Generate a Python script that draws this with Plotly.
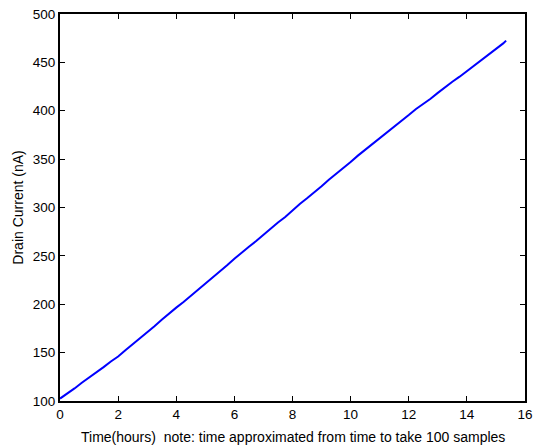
import plotly.graph_objects as go

# Drain current logged over time (hours), read at quarter-hour steps
time_hours = [
    0, 0.25, 0.5, 0.75, 1, 1.25, 1.5, 1.75, 2, 2.25, 2.5, 2.75, 3, 3.25, 3.5, 3.75,
    4, 4.25, 4.5, 4.75, 5, 5.25, 5.5, 5.75, 6, 6.25, 6.5, 6.75, 7, 7.25, 7.5, 7.75,
    8, 8.25, 8.5, 8.75, 9, 9.25, 9.5, 9.75, 10, 10.25, 10.5, 10.75, 11, 11.25, 11.5, 11.75,
    12, 12.25, 12.5, 12.75, 13, 13.25, 13.5, 13.75, 14, 14.25, 14.5, 14.75, 15, 15.25, 15.35,
]
drain_current_nA = [
    102.5, 107.5, 113, 118.8, 124, 129.2, 135, 140.8, 146, 152.5, 158.5, 164.4, 171, 177.2, 184, 190.6,
    196.5, 202.3, 208.5, 215.2, 221, 227.8, 234, 240.2, 247, 253.6, 259.5, 265.4, 272, 278.6, 284.5, 290.2,
    297, 303.6, 309.5, 315.4, 322, 328.6, 334.5, 340.4, 347, 353.6, 359.5, 365.2, 371.5, 377.8, 383.5, 389.2,
    395.5, 401.8, 407, 412.4, 418.5, 424.6, 430, 435.2, 441, 446.8, 452, 457.6, 464, 469.6, 472.5,
]

x_ticks = [0, 2, 4, 6, 8, 10, 12, 14, 16]
y_ticks = [100, 150, 200, 250, 300, 350, 400, 450, 500]

x_title = "Time(hours)  note: time approximated from time to take 100 samples"
y_title = "Drain Current (nA)"

font_family = "Liberation Sans, Arial, sans-serif"

fig = go.Figure(
    go.Scatter(
        x=time_hours,
        y=drain_current_nA,
        mode="lines",
        line=dict(color="#0000FF", width=2),
        showlegend=False,
    )
)

axis_common = dict(
    showline=True,
    linecolor="black",
    linewidth=2,
    mirror="ticks",
    ticks="inside",
    ticklen=5,
    tickwidth=1,
    tickcolor="black",
    showgrid=False,
    zeroline=False,
    automargin=False,
    tickfont=dict(family=font_family, size=13.5, color="black"),
)

fig.update_xaxes(range=[0, 16], tickvals=x_ticks, **axis_common)
fig.update_yaxes(
    range=[100, 500],
    tickvals=y_ticks,
    title=dict(
        text=y_title,
        font=dict(family=font_family, size=14, color="black"),
        standoff=6,
    ),
    **axis_common,
)

# x-axis caption placed below the tick labels
fig.add_annotation(
    text=x_title,
    xref="paper",
    yref="paper",
    x=0.5,
    y=0,
    yshift=-36,
    xanchor="center",
    yanchor="middle",
    showarrow=False,
    font=dict(family=font_family, size=14, color="black"),
)

fig.update_layout(
    width=533,
    height=446,
    margin=dict(l=60, r=8, t=14, b=45),
    paper_bgcolor="white",
    plot_bgcolor="white",
)

fig.write_html("out.html")
